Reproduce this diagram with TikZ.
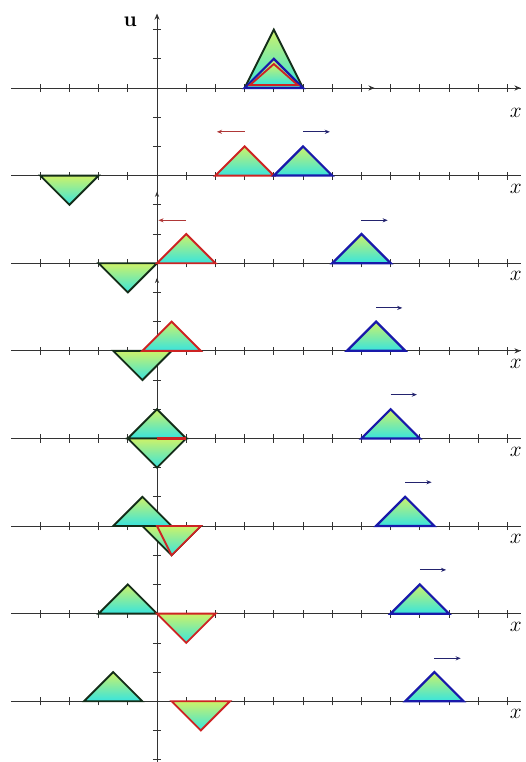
\documentclass[tikz,border=0pt]{standalone}
\usepackage{tikz}
\usetikzlibrary{arrows.meta}
\definecolor{wavetop}{RGB}{205,242,105}
\definecolor{wavebot}{RGB}{55,228,222}
\definecolor{leftred}{RGB}{205,35,35}
\definecolor{rightblue}{RGB}{25,25,170}
\definecolor{imageblack}{RGB}{20,45,25}
\definecolor{leftarrow}{RGB}{175,55,55}
\definecolor{rightarrow}{RGB}{35,35,110}

\tikzset{
  axisline/.style={line width=0.8pt, black!80},
  tickmark/.style={line width=0.7pt, black!80},
  wave/.style={line width=1.8pt, line join=miter, top color=wavetop, bottom color=wavebot},
  imagewave/.style={wave, draw=imageblack},
  leftwave/.style={wave, draw=leftred},
  rightwave/.style={wave, draw=rightblue, line width=2.2pt},
  motion/.style={-{Stealth[length=5pt,width=4pt]}, line width=0.9pt},
  xlabel/.style={font=\huge},
}

\begin{document}
\begin{tikzpicture}
\useasboundingbox (-5.377,-23.08) rectangle (12.603,3.014);

% one x axis per time step
\foreach \r in {0,...,7}{
  \draw[axisline] (-5,-3*\r) -- (12.45,-3*\r);
  \foreach \k in {-4,...,-1,1,2,...,12}
    \draw[tickmark] (\k,-3*\r-0.14) -- (\k,-3*\r+0.14);
}
\foreach \r in {1,...,7}
  \node[xlabel] (xlab\r) at (12.29,-3*\r-0.45) {$x$};
\node[xlabel] (xlab0) at (12.29,-0.86) {$x$};
\draw[axisline,-{Stealth[length=6pt,width=5pt]}] (11.9,0) -- (12.45,0);
\draw[axisline,-{Stealth[length=6pt,width=5pt]}] (6.9,0) -- (7.45,0);
\draw[axisline,-{Stealth[length=6pt,width=5pt]}] (11.9,-9) -- (12.45,-9);

% u axis
\draw[axisline,-{Stealth[length=6pt,width=5pt]}] (0,-23.2) -- (0,2.55);
\foreach \k in {-23,...,2}
  \draw[tickmark] (-0.14,\k) -- (0.14,\k);
\draw[axisline,-{Stealth[length=5pt,width=4pt]}] (0,-3.9) -- (0,-3.55);
\draw[axisline,-{Stealth[length=5pt,width=4pt]}] (0,-6.85) -- (0,-6.5);
\node[font=\huge] (ulab) at (-0.92,2.26) {\textbf{u}};

% t = 0
\path[imagewave] (3,0) -- (4,2) -- (5,0) -- cycle;
\path[rightwave] (3,0) -- (4,1) -- (5,0) -- cycle;
\path[leftwave] (3.18,0.1) -- (4,0.82) -- (4.82,0.1) -- cycle;

% t = 1
\begin{scope}[yshift=-3cm]
\path[imagewave] (-4,0) -- (-3,-1) -- (-2,0) -- cycle;
\path[leftwave] (2,0) -- (3,1) -- (4,0) -- cycle;
\path[rightwave] (4,0) -- (5,1) -- (6,0) -- cycle;
\draw[motion, leftarrow] (3,1.5) -- (2.05,1.5);
\draw[motion, rightarrow] (5,1.5) -- (5.92,1.5);
\end{scope}

% t = 3
\begin{scope}[yshift=-6cm]
\path[imagewave] (-2,0) -- (-1,-1) -- (0,0) -- cycle;
\path[leftwave] (0,0) -- (1,1) -- (2,0) -- cycle;
\path[rightwave] (6,0) -- (7,1) -- (8,0) -- cycle;
\draw[motion, leftarrow] (1,1.47) -- (0.05,1.47);
\draw[motion, rightarrow] (7,1.47) -- (7.9,1.47);
\end{scope}

% t = 3.5
\begin{scope}[yshift=-9cm]
\path[imagewave] (-1.5,0) -- (-0.5,-1) -- (0.5,0) -- cycle;
\path[leftwave] (-0.5,0) -- (0.5,1) -- (1.5,0) -- cycle;
\path[rightwave] (6.5,0) -- (7.5,1) -- (8.5,0) -- cycle;
\draw[motion, rightarrow] (7.5,1.47) -- (8.4,1.47);
\end{scope}

% t = 4
\begin{scope}[yshift=-12cm]
\path[imagewave] (-1,0) -- (0,1) -- (1,0) -- cycle;
\path[imagewave] (-1,0) -- (0,-1) -- (1,0) -- cycle;
\draw[leftred, line width=2.2pt] (0,0) -- (1,0);
\path[rightwave] (7,0) -- (8,1) -- (9,0) -- cycle;
\draw[motion, rightarrow] (8,1.5) -- (8.9,1.5);
\end{scope}

% t = 4.5
\begin{scope}[yshift=-15cm]
\path[imagewave] (-1.5,0) -- (-0.5,1) -- (0.5,0) -- cycle;
\path[imagewave] (-0.5,0) -- (0.5,-1) -- (1.5,0) -- cycle;
\path[leftwave] (0,0) -- (0.5,-1) -- (1.5,0) -- cycle;
\path[rightwave] (7.5,0) -- (8.5,1) -- (9.5,0) -- cycle;
\draw[motion, rightarrow] (8.5,1.5) -- (9.4,1.5);
\end{scope}

% t = 5
\begin{scope}[yshift=-18cm]
\path[imagewave] (-2,0) -- (-1,1) -- (0,0) -- cycle;
\path[leftwave] (0,0) -- (1,-1) -- (2,0) -- cycle;
\path[rightwave] (8,0) -- (9,1) -- (10,0) -- cycle;
\draw[motion, rightarrow] (9,1.5) -- (9.9,1.5);
\end{scope}

% t = 5.5
\begin{scope}[yshift=-21cm]
\path[imagewave] (-2.5,0) -- (-1.5,1) -- (-0.5,0) -- cycle;
\path[leftwave] (0.5,0) -- (1.5,-1) -- (2.5,0) -- cycle;
\path[rightwave] (8.5,0) -- (9.5,1) -- (10.5,0) -- cycle;
\draw[motion, rightarrow] (9.5,1.47) -- (10.4,1.47);
\end{scope}
\end{tikzpicture}
\end{document}
